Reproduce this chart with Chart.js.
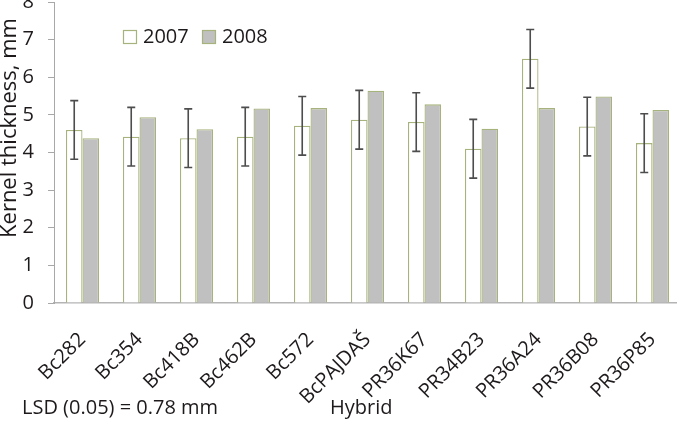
<!DOCTYPE html>
<html>
<head>
<meta charset="utf-8">
<script src="https://cdn.jsdelivr.net/npm/chart.js@4/dist/chart.umd.min.js"></script>
<style>
html,body{margin:0;padding:0;background:#fff;overflow:hidden;width:677px;height:426px;}
canvas{display:block;}
</style>
</head>
<body>
<canvas id="c" width="681" height="426"></canvas>
<script>
const categories = ['Bc282','Bc354','Bc418B','Bc462B','Bc572','BcPAJDAŠ','PR36K67','PR34B23','PR36A24','PR36B08','PR36P85'];
const seriesNames = ['2007','2008'];
const values2007 = [4.60,4.42,4.38,4.42,4.71,4.87,4.81,4.10,6.49,4.69,4.25];
const values2008 = [4.38,4.94,4.62,5.17,5.18,5.64,5.28,4.63,5.18,5.49,5.13];
const errors2007 = [0.78,0.78,0.78,0.78,0.78,0.78,0.78,0.78,0.78,0.78,0.78];
const yTicks = [0,1,2,3,4,5,6,7,8];
const yTitle = 'Kernel thickness, mm';
const xTitle = 'Hybrid';
const noteText = 'LSD (0.05) = 0.78 mm';

const FONT = '"Open Sans", sans-serif';
const TEXT = '#1e1a1b';
const BORDER = '#a7b37c';
const GREY = '#c0c0c0';

const errorBars = {
  id: 'errorBars',
  afterDatasetsDraw(chart) {
    const ctx = chart.ctx, y = chart.scales.y, meta = chart.getDatasetMeta(0);
    ctx.save();
    ctx.strokeStyle = '#4d4d4d';
    ctx.lineWidth = 1.6;
    meta.data.forEach((bar, i) => {
      const v = values2007[i], e = errors2007[i];
      const top = y.getPixelForValue(v + e), bot = y.getPixelForValue(v - e);
      ctx.beginPath();
      ctx.moveTo(bar.x, top); ctx.lineTo(bar.x, bot);
      ctx.moveTo(bar.x - 4, top); ctx.lineTo(bar.x + 4, top);
      ctx.moveTo(bar.x - 4, bot); ctx.lineTo(bar.x + 4, bot);
      ctx.stroke();
    });
    ctx.restore();
  }
};

const extras = {
  id: 'extras',
  afterDraw(chart) {
    const ctx = chart.ctx;
    ctx.save();
    ctx.fillStyle = TEXT;
    ctx.font = '20px ' + FONT;
    // legend
    const ds = chart.data.datasets;
    const lx = [123, 202];
    ds.forEach((d, i) => {
      ctx.fillStyle = d.backgroundColor;
      ctx.fillRect(lx[i] + 0.5, 30.5, 13, 13);
      ctx.strokeStyle = d.borderColor;
      ctx.lineWidth = 1.2;
      ctx.strokeRect(lx[i] + 0.5, 30.5, 13, 13);
      ctx.fillStyle = TEXT;
      ctx.textBaseline = 'middle';
      ctx.textAlign = 'left';
      ctx.fillText(d.label, lx[i] + 20, 37);
    });
    // bottom texts
    ctx.textBaseline = 'alphabetic';
    ctx.fillText(noteText, 22, 414);
    ctx.fillText(xTitle, 330, 414);
    // y title
    ctx.font = '22px ' + FONT;
    ctx.translate(16, 128);
    ctx.rotate(-Math.PI / 2);
    ctx.textAlign = 'center';
    ctx.fillText(yTitle, 0, 0);
    ctx.restore();
  }
};

new Chart(document.getElementById('c'), {
  type: 'bar',
  data: {
    labels: categories,
    datasets: [
      { label: seriesNames[0], data: values2007, backgroundColor: '#ffffff', borderColor: BORDER, borderWidth: 1.3 },
      { label: seriesNames[1], data: values2008, backgroundColor: GREY, borderColor: BORDER, borderWidth: 1.3 }
    ]
  },
  options: {
    responsive: false,
    devicePixelRatio: 1,
    animation: false,
    layout: { padding: { top: 2, left: 0, right: 0, bottom: 0 } },
    datasets: { bar: { categoryPercentage: 0.58, barPercentage: 1.0 } },
    plugins: { legend: { display: false }, tooltip: { enabled: false } },
    scales: {
      x: {
        grid: { display: false },
        border: { display: true, color: '#b4b4b4', width: 1.5 },
        ticks: { color: TEXT, font: { family: FONT, size: 20 }, maxRotation: 45, minRotation: 45, padding: 17, autoSkip: false },
        afterFit(s) { s.height = 123; s.paddingLeft = 0; s.paddingRight = 0; }
      },
      y: {
        min: 0, max: 8,
        afterBuildTicks(s) { s.ticks = yTicks.map(v => ({ value: v })); },
        grid: { drawOnChartArea: false, drawTicks: true, tickLength: 6, color: '#a8a8a8', lineWidth: 1 },
        border: { display: true, color: '#a8a8a8', width: 1 },
        ticks: { color: TEXT, font: { family: FONT, size: 20 }, padding: 14 },
        afterFit(s) { s.width = 54; s.paddingTop = 0; s.paddingBottom = 0; }
      }
    }
  },
  plugins: [errorBars, extras]
});
</script>
</body>
</html>
